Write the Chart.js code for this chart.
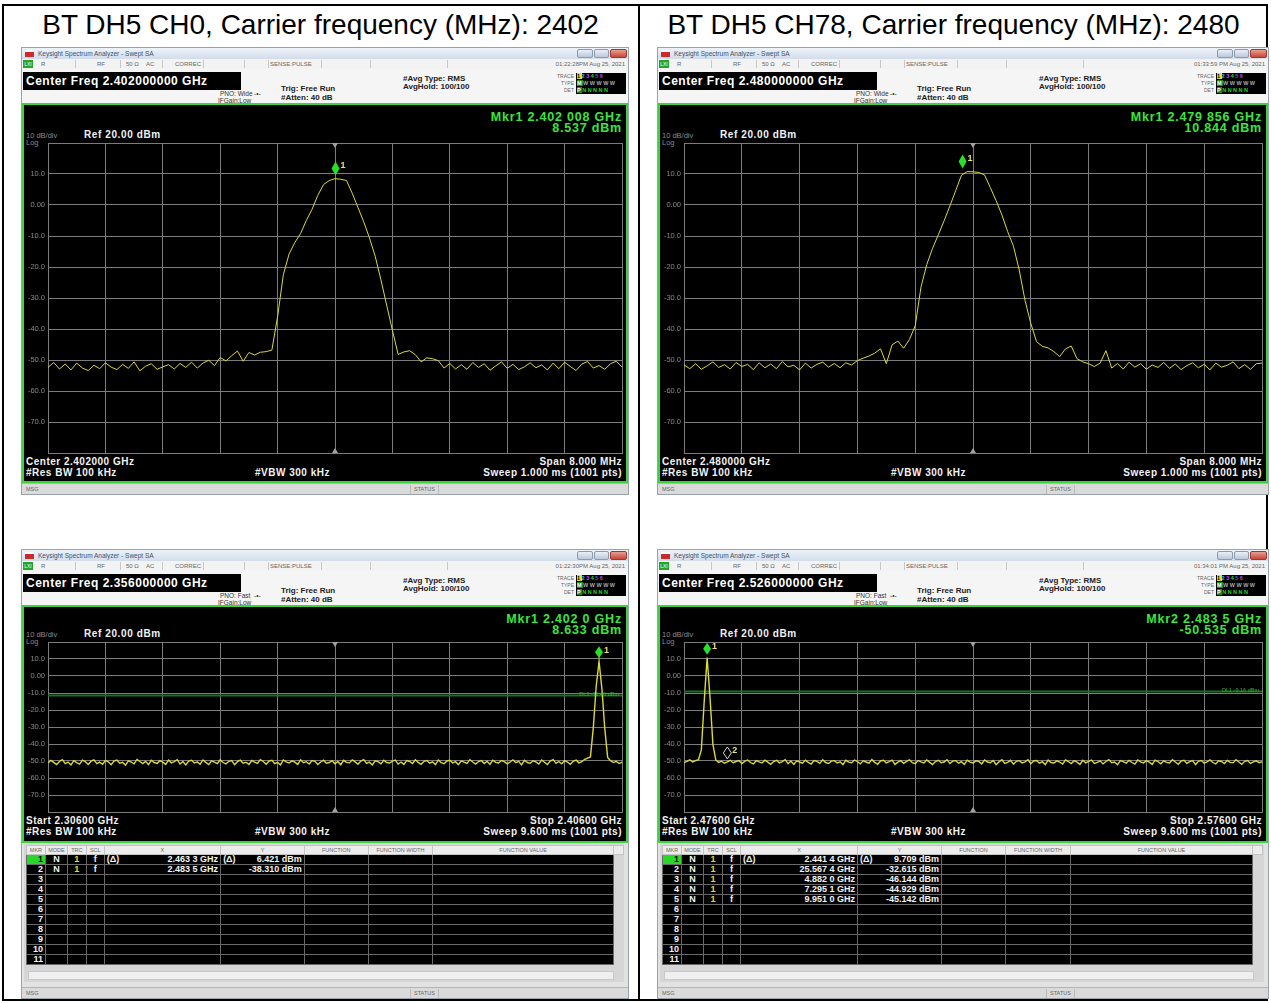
<!DOCTYPE html>
<html lang="en">
<head>
<meta charset="UTF-8">
<title>BT DH5 CH0 / CH78</title>
<script src="https://cdn.jsdelivr.net/npm/chart.js@4.4.0/dist/chart.umd.min.js"></script>
<style>
body { margin: 0; background: #fff; font-family: "Liberation Sans", Arial, sans-serif; }
#page { position: relative; width: 1271px; height: 1003px; overflow: hidden; }
#page > div, .win div { position: absolute; white-space: nowrap; }
.frame { left: 2px; top: 4px; width: 1262px; height: 993px; border: 2px solid #000; }
.divider { left: 638px; top: 4px; width: 2px; height: 997px; background: #000; }
.cap { top: 8px; font-size: 28px; line-height: 34px; text-align: center; color: #000; }
.win { background: #e2e2e2; overflow: hidden; box-shadow: 0 0 0 1px #9aa3ad; }
.tb { left: 0; top: 0; height: 11px; background: linear-gradient(#eef3f9, #d2dcea); }
.ico { left: 3px; top: 2px; width: 9px; height: 7px; background: linear-gradient(#fff 0 35%, #cc2a2a 35%); }
.tt { left: 16px; top: 1px; font-size: 6.5px; line-height: 9px; color: #40536b; }
.wb { top: 1px; height: 9px; border-radius: 2px; background: linear-gradient(#eaf0f8, #b9c8da); border: 1px solid #8c9bb0; box-sizing: border-box; }
.wb.close { background: linear-gradient(#e8a090, #c8453a); border-color: #9a3a30; }
.sr { left: 0; top: 11px; height: 10px; background: #f3f3f3; border-bottom: 1px solid #c4c4c4; }
.sr .st { top: 1px; font-size: 6px; line-height: 8px; color: #666; }
.sr .sep { top: 1px; width: 1px; height: 8px; background: #c8c8c8; }
.lxi { left: 1px; top: 1px; width: 10px; height: 8px; background: #27a327; color: #fff; font-size: 5px; line-height: 8px; text-align: center; }
.hd { left: 0; top: 21px; height: 34px; background: #f5f5f5; }
.cf { left: 1px; top: 3px; width: 218px; height: 18px; background: #000; color: #fff; font-weight: bold; font-size: 12px; line-height: 18px; letter-spacing: 0.5px; padding-left: 3px; box-sizing: border-box; }
.h7 { font-size: 6.5px; line-height: 7px; color: #333; }
.h8 { font-size: 8px; line-height: 9px; color: #222; font-weight: bold; }
.tl { font-size: 5px; line-height: 7px; color: #666; text-align: right; width: 30px; }
.tbx { height: 7px; width: 50px; background: #000; font-size: 5.5px; line-height: 7px; font-weight: bold; letter-spacing: 1.5px; padding-left: 1px; box-sizing: border-box; }
.scr { left: 0; border: 2px solid #3bd43b; background: #000; }
.mk { right: 6px; color: #3de43d; font-weight: bold; font-size: 12.5px; line-height: 12px; letter-spacing: 0.8px; text-align: right; }
.gy { font-size: 7.5px; line-height: 9px; color: #8a8a8a; }
.ref { color: #f2f2f2; font-weight: bold; font-size: 10px; line-height: 12px; letter-spacing: 0.6px; }
.inf { color: #f2f2f2; font-weight: bold; font-size: 10px; line-height: 12px; letter-spacing: 0.5px; }
.plot { left: 2px; }
.msg { left: 0; height: 11px; background: #dadada; border-top: 1px solid #b4b4b4; }
.msg .s { top: 1px; font-size: 5.5px; line-height: 9px; color: #666; }
.mt { left: 2px; background: #d6d6d6; }
.mt table { border-collapse: collapse; table-layout: fixed; position: absolute; left: 2px; top: 2px; }
.mt th { height: 8px; font-size: 5.5px; font-weight: normal; color: #666; background: #ececec; border: 1px solid #c4c4c4; padding: 0; line-height: 8px; overflow: hidden; }
.mt td { height: 9px; font-size: 9px; font-weight: bold; color: #f4f4f4; background: #000; border: 1px solid #6a6a6a; padding: 0 2px; line-height: 9px; overflow: hidden; white-space: nowrap; }
.mt td.r { text-align: right; }
.mt td.c { text-align: center; }
.mt td.g { background: #29d629; color: #000; }
.mt td.y { color: #e6dc2a; text-align: center; }
.mt .fl { float: left; }
.sb { left: 4px; height: 7px; background: #efefef; border: 1px solid #c8c8c8; }
</style>
</head>
<body>
<div id="page">
  <div class="frame"></div>
  <div class="divider"></div>
  <div class="cap" style="left:3px;width:635px">BT DH5 CH0, Carrier frequency (MHz): 2402</div>
  <div class="cap" style="left:640px;width:627px">BT DH5 CH78, Carrier frequency (MHz): 2480</div>
</div>
<script>
const yTickValues = [10, 0, -10, -20, -30, -40, -50, -60, -70];
const yTickLabels = ['10.0', '0.00', '-10.0', '-20.0', '-30.0', '-40.0', '-50.0', '-60.0', '-70.0'];

const ch0Levels = [
  -52.4, -50.8, -52.9, -51.3, -53.2, -51.0, -52.6, -53.4, -51.7, -52.8,
  -50.9, -52.3, -53.1, -51.4, -52.7, -50.6, -53.5, -52.0, -51.2, -53.0,
  -52.2, -51.5, -52.9, -51.1, -52.4, -50.7, -52.6, -51.0, -50.1, -51.8,
  -49.2, -50.3, -48.6, -47.1, -50.4, -47.6, -48.4, -47.5, -47.3, -46.8,
  -36.0, -22.5, -15.8, -12.1, -9.2, -5.0, -1.4, 3.1, 6.6, 7.9,
  8.5, 8.3, 7.9, 3.8, -0.8, -5.4, -10.6, -16.5, -24.1, -32.3,
  -40.4, -48.2, -47.4, -47.0, -48.3, -50.6, -49.3, -49.6, -50.2, -52.6,
  -51.1, -52.9, -51.5, -53.0, -50.8, -52.4, -51.2, -53.3, -51.9, -50.6,
  -52.7, -51.4, -53.1, -52.2, -50.9, -52.5, -51.6, -53.2, -51.0, -52.8,
  -50.7, -52.1, -53.4, -51.3, -50.5, -52.6, -51.8, -53.0, -51.2, -50.4,
  -52.3
];
const ch78Levels = [
  -51.6, -52.8, -51.2, -53.0, -51.9, -50.6, -52.4, -51.5, -52.9, -50.8,
  -52.1, -51.4, -53.1, -50.9, -52.5, -51.3, -52.8, -50.5, -52.2, -51.7,
  -53.2, -51.0, -52.6, -51.4, -50.7, -52.3, -51.1, -52.5, -50.9, -51.6,
  -50.2, -49.4, -48.7, -47.8, -46.4, -51.2, -45.1, -43.9, -46.2, -43.4,
  -39.0, -26.5, -19.2, -14.0, -9.6, -5.1, -0.3, 4.6, 9.6, 10.8,
  10.7, 10.5, 9.7, 5.6, 1.4, -3.2, -8.6, -13.3, -21.0, -30.8,
  -38.2, -44.1, -45.6, -46.1, -47.3, -48.9, -46.4, -45.5, -49.6, -50.6,
  -51.2, -52.1, -51.0, -47.0, -52.6, -51.1, -52.9, -50.7, -52.3, -51.2,
  -53.0, -51.6, -52.4, -50.8, -52.7, -51.3, -53.1, -51.8, -50.9, -52.5,
  -51.4, -53.2, -51.0, -52.3, -51.7, -50.6, -52.8, -51.5, -53.0, -51.2,
  -51.0
];
// band edge sweeps, every 5th sweep point
const lowEdgeLevels = [
  -51.2, -49.6, -50.8, -52.1, -50.3, -49.2, -51.5, -50.6, -52.3, -49.8,
  -50.9, -51.8, -49.5, -50.4, -52.0, -50.1, -49.3, -51.6, -50.7, -51.9,
  -49.7, -50.5, -52.2, -50.0, -49.4, -51.3, -50.8, -52.4, -49.9, -50.6,
  -51.7, -49.1, -50.3, -51.5, -50.2, -52.1, -49.6, -50.9, -51.4, -49.8,
  -50.7, -52.0, -49.5, -51.1, -50.4, -49.2, -51.8, -50.3, -52.3, -50.0,
  -49.6, -51.2, -50.5, -51.9, -49.4, -50.8, -52.1, -49.9, -50.6, -51.5,
  -49.3, -50.9, -51.7, -50.2, -49.8, -52.2, -50.4, -49.5, -51.3, -50.7,
  -52.0, -49.7, -50.6, -51.4, -49.2, -50.3, -51.9, -50.1, -49.6, -51.6,
  -50.8, -52.3, -49.4, -50.5, -51.2, -49.9, -50.7, -52.0, -49.3, -51.0,
  -50.4, -51.8, -49.7, -50.2, -52.1, -50.6, -49.5, -51.3, -50.9, -49.8,
  -51.6, -50.3, -52.2, -49.6, -50.8, -51.1, -49.4, -50.5, -51.9, -50.0,
  -49.2, -51.4, -50.7, -52.3, -49.9, -50.4, -51.7, -49.6, -50.9, -51.2,
  -50.1, -49.5, -51.8, -50.6, -52.0, -49.8, -50.3, -51.5, -49.3, -50.8,
  -51.9, -50.2, -49.7, -51.3, -50.5, -52.1, -49.4, -50.9, -51.6, -50.0,
  -49.6, -51.1, -50.4, -52.2, -49.9, -50.7, -51.4, -49.2, -50.6, -51.8,
  -50.3, -49.8, -51.5, -50.1, -52.0, -49.5, -50.8, -51.2, -49.7, -50.4,
  -51.7, -50.6, -49.3, -51.0, -50.2, -52.3, -49.6, -50.9, -51.3, -49.9,
  -50.5, -51.8, -49.4, -50.7, -52.1, -50.0, -49.2, -51.4, -50.3, -51.6,
  -49.8, -50.6, -51.9, -50.2, -49.5, -51.1, -50.4, -49.0, -48.3, -47.6,
  -30.5, -6.2, 8.6, -7.4, -31.0, -47.9, -49.8, -50.9, -50.2, -51.5,
  -50.7
];
const highEdgeLevels = [
  -51.0, -50.2, -49.3, -50.6, -49.8, -49.2, -43.5, -14.8, 10.8, -12.5,
  -40.2, -49.4, -50.8, -50.1, -51.3, -50.5, -49.6, -51.0, -50.3, -49.7,
  -51.5, -50.2, -49.4, -50.9, -51.7, -49.8, -50.5, -51.2, -49.5, -50.7,
  -51.9, -50.3, -49.6, -51.1, -50.4, -49.2, -51.6, -50.0, -52.0, -49.9,
  -50.6, -51.3, -49.5, -50.8, -51.8, -49.7, -50.2, -51.4, -49.3, -50.9,
  -51.5, -50.1, -49.8, -51.2, -50.5, -52.1, -49.6, -50.7, -51.0, -49.4,
  -50.3, -51.7, -49.9, -50.6, -51.3, -49.2, -50.8, -51.9, -50.0, -49.6,
  -51.1, -50.4, -49.5, -52.0, -50.7, -49.8, -51.4, -50.2, -49.3, -50.9,
  -51.6, -49.7, -50.5, -51.2, -49.4, -50.8, -52.1, -50.3, -49.6, -51.0,
  -50.6, -49.2, -51.5, -50.1, -49.8, -51.3, -50.4, -52.0, -49.5, -50.7,
  -51.2, -49.9, -50.3, -51.7, -49.4, -50.6, -51.0, -49.7, -52.2, -50.5,
  -49.3, -51.4, -50.8, -49.6, -51.9, -50.2, -49.8, -51.1, -50.5, -49.2,
  -51.6, -50.0, -49.7, -51.3, -50.4, -52.1, -49.5, -50.9, -51.2, -49.9,
  -50.6, -51.8, -49.4, -50.3, -51.5, -49.8, -50.7, -52.0, -49.6, -51.1,
  -50.2, -49.5, -51.4, -50.8, -49.9, -51.7, -50.3, -49.2, -51.0, -50.6,
  -52.2, -49.7, -50.4, -51.3, -49.6, -50.9, -51.8, -49.4, -50.5, -51.1,
  -49.8, -50.7, -52.0, -49.5, -50.3, -51.6, -49.9, -50.8, -51.2, -49.3,
  -50.6, -51.9, -50.1, -49.6, -51.4, -50.4, -49.8, -52.1, -50.2, -49.7,
  -51.3, -50.5, -49.4, -50.9, -51.7, -49.9, -50.3, -51.5, -49.6, -50.8,
  -51.1, -49.3, -50.6, -52.0, -50.2, -49.7, -51.4, -50.5, -49.9, -51.0,
  -50.4
];

// markers: [sweep point, level dBm, label, hollow]
const ch0Markers = [[501, 8.537, '1', false]];
const ch78Markers = [[482, 10.844, '1', false]];
const lowEdgeMarkers = [[960, 8.633, '1', false]];
const highEdgeMarkers = [[40, 10.8, '1', false], [75, -50.535, '2', true]];

const lowEdgeTable = [
  ['1', 'N', '1', 'f', '(Δ)', '2.463 3 GHz', '(Δ)', '6.421 dBm'],
  ['2', 'N', '1', 'f', '', '2.483 5 GHz', '', '-38.310 dBm']
];
const highEdgeTable = [
  ['1', 'N', '1', 'f', '(Δ)', '2.441 4 GHz', '(Δ)', '9.709 dBm'],
  ['2', 'N', '1', 'f', '', '25.567 4 GHz', '', '-32.615 dBm'],
  ['3', 'N', '1', 'f', '', '4.882 0 GHz', '', '-46.144 dBm'],
  ['4', 'N', '1', 'f', '', '7.295 1 GHz', '', '-44.929 dBm'],
  ['5', 'N', '1', 'f', '', '9.951 0 GHz', '', '-45.142 dBm']
];

const GRID = '#7c7c7c';
const page = document.getElementById('page');

function el(parent, cls, style, text) {
  const d = document.createElement('div');
  d.className = cls;
  d.style.cssText = style || '';
  if (text !== undefined) d.textContent = text;
  parent.appendChild(d);
  return d;
}

function buildWindow(p) {
  const W = p.width;
  const w = el(page, 'win', `left:${p.left}px;top:${p.top}px;width:${W}px;height:${p.height}px`);

  const tb = el(w, 'tb', `width:${W}px`);
  el(tb, 'ico');
  el(tb, 'tt', '', 'Keysight Spectrum Analyzer - Swept SA');
  el(tb, 'wb', `left:${W - 51}px;width:16px`);
  el(tb, 'wb', `left:${W - 34}px;width:15px`);
  el(tb, 'wb close', `left:${W - 18}px;width:17px`);

  const sr = el(w, 'sr', `width:${W}px`);
  el(sr, 'lxi', '', 'LXI');
  [[19, 'R'], [75, 'RF'], [104, '50 Ω'], [124, 'AC'], [153, 'CORREC'], [248, 'SENSE:PULSE']]
    .forEach(([x, t]) => el(sr, 'st', `left:${x}px`, t));
  [53, 98, 140, 181, 222, 246, 299, 348, 425].forEach(x => el(sr, 'sep', `left:${x}px`));
  el(sr, 'st', 'right:3px', p.time);

  const hd = el(w, 'hd', `width:${W}px`);
  el(hd, 'cf', '', 'Center Freq ' + p.center);
  el(hd, 'h7', 'left:198px;top:21px', 'PNO: ' + p.pno);
  el(hd, 'h7', 'left:196px;top:28px', 'IFGain:Low');
  el(hd, 'h7', 'left:232px;top:21px', '-•-');
  el(hd, 'h8', 'left:259px;top:15px', 'Trig: Free Run');
  el(hd, 'h8', 'left:259px;top:24px', '#Atten: 40 dB');
  el(hd, 'h8', 'left:381px;top:5px', '#Avg Type: RMS');
  el(hd, 'h8', 'left:381px;top:13px', 'AvgHold: 100/100');
  const tx = W - 52;
  el(hd, 'tl', `left:${tx - 32}px;top:4px`, 'TRACE');
  el(hd, 'tl', `left:${tx - 32}px;top:11px`, 'TYPE');
  el(hd, 'tl', `left:${tx - 32}px;top:18px`, 'DET');
  const r1 = el(hd, 'tbx', `left:${tx}px;top:4px`);
  r1.innerHTML = '<span style="background:#e6dc2a;color:#000">1</span><span style="color:#3cc8e8">2</span><span style="color:#e040e0">3</span><span style="color:#40d040">4</span><span style="color:#4060ff">5</span><span style="color:#a050e0">6</span>';
  const r2 = el(hd, 'tbx', `left:${tx}px;top:11px;color:#aaa`);
  r2.innerHTML = '<span style="background:#1f8a1f;color:#fff">M</span>WWWWW';
  const r3 = el(hd, 'tbx', `left:${tx}px;top:18px;color:#2fd02f`);
  r3.innerHTML = '<span style="background:#1f8a1f;color:#fff">P</span>NNNNN';

  el(w, 'scr', `top:${p.scrTop}px;width:${W - 4}px;height:${p.scrHeight}px`);
  el(w, 'mk', `top:${p.scrTop + 8}px`, p.mkr[0]);
  el(w, 'mk', `top:${p.scrTop + 19}px`, p.mkr[1]);
  el(w, 'gy', `left:4px;top:${p.plotTop - 12}px`, '10 dB/div');
  el(w, 'ref', `left:62px;top:${p.plotTop - 14}px`, 'Ref 20.00 dBm');
  el(w, 'gy', `left:4px;top:${p.plotTop - 5}px`, 'Log');

  const box = el(w, 'plot', `top:${p.plotTop - 1}px;width:${W - 7}px;height:${p.plotHeight + 2}px`);
  const cv = document.createElement('canvas');
  box.appendChild(cv);

  const y1 = p.plotTop + p.plotHeight + 3;
  el(w, 'inf', `left:4px;top:${y1}px`, p.info[0]);
  el(w, 'inf', `left:4px;top:${y1 + 11}px`, '#Res BW 100 kHz');
  el(w, 'inf', `left:233px;top:${y1 + 11}px`, '#VBW 300 kHz');
  el(w, 'inf', `right:6px;top:${y1}px;text-align:right`, p.info[1]);
  el(w, 'inf', `right:6px;top:${y1 + 11}px;text-align:right`, p.info[2]);

  if (p.table) {
    const mt = el(w, 'mt', `top:${p.scrTop + p.scrHeight + 4}px;width:${W - 6}px;height:${p.height - p.scrTop - p.scrHeight - 20}px`);
    const cols = [19, 22, 19, 18, 117, 84, 64, 65, 182, 10];
    const heads = ['MKR', 'MODE', 'TRC', 'SCL', 'X', 'Y', 'FUNCTION', 'FUNCTION WIDTH', 'FUNCTION VALUE', ''];
    let html = '<table><colgroup>' + cols.map(c => `<col style="width:${c}px">`).join('') + '</colgroup><tr>';
    html += heads.map(h => `<th>${h}</th>`).join('') + '</tr>';
    for (let i = 0; i < 11; i++) {
      const r = p.table[i];
      const n = String(i + 1);
      if (r) {
        html += `<tr><td class="r${i === 0 ? ' g' : ''}">${r[0]}</td><td class="c">${r[1]}</td><td class="y">${r[2]}</td><td class="c">${r[3]}</td>` +
          `<td class="r"><span class="fl">${r[4]}</span>${r[5]}</td><td class="r"><span class="fl">${r[6]}</span>${r[7]}</td>` +
          '<td></td><td></td><td></td><td style="background:#d6d6d6;border-color:#d6d6d6"></td></tr>';
      } else {
        html += `<tr><td class="r">${n}</td><td></td><td></td><td></td><td></td><td></td><td></td><td></td><td></td><td style="background:#d6d6d6;border-color:#d6d6d6"></td></tr>`;
      }
    }
    html += '</table>';
    mt.innerHTML = html;
    el(mt, 'sb', `top:${p.height - p.scrTop - p.scrHeight - 31}px;width:${W - 22}px`);
  }

  el(w, 'msg', `top:${p.height - 11}px;width:${W}px`);
  const msg = w.lastChild;
  el(msg, 's', 'left:4px', 'MSG');
  el(msg, 's', 'left:388px;border-left:1px solid #bbb;border-right:1px solid #bbb;padding:0 3px', 'STATUS');
  return cv;
}

function diamond(ctx, x, y, hw, hh, hollow) {
  ctx.beginPath();
  ctx.moveTo(x, y - hh);
  ctx.lineTo(x + hw, y);
  ctx.lineTo(x, y + hh);
  ctx.lineTo(x - hw, y);
  ctx.closePath();
  if (hollow) {
    ctx.strokeStyle = '#d8d8d8';
    ctx.lineWidth = 1;
    ctx.stroke();
  } else {
    ctx.fillStyle = '#27e027';
    ctx.fill();
  }
}

const overlay = {
  id: 'overlay',
  afterDatasetsDraw(chart, args, opts) {
    const ctx = chart.ctx, xs = chart.scales.x, ys = chart.scales.y, a = chart.chartArea;
    ctx.save();
    ctx.font = '7.5px "Liberation Sans"';
    ctx.fillStyle = '#8a8a8a';
    ctx.textAlign = 'right';
    ctx.textBaseline = 'middle';
    yTickValues.forEach((v, i) => ctx.fillText(yTickLabels[i], a.left - 3, ys.getPixelForValue(v)));

    const cx = xs.getPixelForValue(500);
    ctx.fillStyle = '#a0a0a0';
    ctx.beginPath();
    ctx.moveTo(cx - 3, a.top); ctx.lineTo(cx + 3, a.top); ctx.lineTo(cx, a.top + 5);
    ctx.moveTo(cx - 3, a.bottom); ctx.lineTo(cx + 3, a.bottom); ctx.lineTo(cx, a.bottom - 5);
    ctx.fill();

    if (opts.dl !== null) {
      ctx.font = '5.5px "Liberation Sans"';
      ctx.fillStyle = '#35b035';
      ctx.fillText('DL1 ' + opts.dl.toFixed(2) + ' dBm', a.right - 3, ys.getPixelForValue(opts.dl) - 1);
    }

    opts.markers.forEach(m => {
      const px = xs.getPixelForValue(m[0]);
      const py = ys.getPixelForValue(m[1]) - opts.lift;
      diamond(ctx, px, py, 4, opts.hh, m[3]);
      ctx.font = 'bold 9px "Liberation Sans"';
      ctx.fillStyle = '#e8e070';
      ctx.textAlign = 'left';
      ctx.fillText(m[2], px + 5, py - opts.hh + 4);
    });
    ctx.restore();
  }
};

function drawTrace(canvas, levels, step, markers, dl, lift, hh, lw) {
  const datasets = [{
    data: levels.map((v, i) => ({x: i * step, y: v})),
    borderColor: '#dcd83a',
    borderWidth: lw,
    pointRadius: 0,
    tension: 0,
    order: 0
  }];
  if (dl !== null) {
    datasets.push({
      data: [{x: 0, y: dl}, {x: 1000, y: dl}],
      borderColor: '#1f6f1f',
      borderWidth: 2,
      pointRadius: 0,
      order: 1
    });
  }
  return new Chart(canvas, {
    type: 'line',
    data: {datasets: datasets},
    options: {
      responsive: true,
      maintainAspectRatio: false,
      animation: false,
      layout: {padding: {left: 24, right: 1, top: 1, bottom: 1}},
      plugins: {
        legend: {display: false},
        tooltip: {enabled: false},
        overlay: {markers: markers, dl: dl, lift: lift, hh: hh}
      },
      scales: {
        x: {
          type: 'linear', min: 0, max: 1000,
          ticks: {stepSize: 100, display: false},
          grid: {color: GRID, drawTicks: false},
          border: {color: GRID}
        },
        y: {
          min: -80, max: 20,
          ticks: {stepSize: 10, display: false},
          grid: {color: GRID, drawTicks: false},
          border: {color: GRID}
        }
      }
    },
    plugins: [overlay]
  });
}

const cvCh0 = buildWindow({
  left: 22, top: 48, width: 606, height: 446, scrTop: 55, scrHeight: 376,
  plotTop: 95, plotHeight: 310, pno: 'Wide',
  center: '2.402000000 GHz', time: '01:22:28PM Aug 25, 2021',
  mkr: ['Mkr1 2.402 008 GHz', '8.537 dBm'],
  info: ['Center 2.402000 GHz', 'Span 8.000 MHz', 'Sweep  1.000 ms (1001 pts)'],
  table: null
});
const cvCh78 = buildWindow({
  left: 658, top: 48, width: 610, height: 446, scrTop: 55, scrHeight: 376,
  plotTop: 95, plotHeight: 310, pno: 'Wide',
  center: '2.480000000 GHz', time: '01:33:59 PM Aug 25, 2021',
  mkr: ['Mkr1 2.479 856 GHz', '10.844 dBm'],
  info: ['Center 2.480000 GHz', 'Span 8.000 MHz', 'Sweep  1.000 ms (1001 pts)'],
  table: null
});
const cvLow = buildWindow({
  left: 22, top: 550, width: 606, height: 448, scrTop: 55, scrHeight: 234,
  plotTop: 92, plotHeight: 170, pno: 'Fast',
  center: '2.356000000 GHz', time: '01:22:30PM Aug 25, 2021',
  mkr: ['Mkr1 2.402 0 GHz', '8.633 dBm'],
  info: ['Start 2.30600 GHz', 'Stop 2.40600 GHz', 'Sweep  9.600 ms (1001 pts)'],
  table: lowEdgeTable
});
const cvHigh = buildWindow({
  left: 658, top: 550, width: 610, height: 448, scrTop: 55, scrHeight: 234,
  plotTop: 92, plotHeight: 170, pno: 'Fast',
  center: '2.526000000 GHz', time: '01:34:01 PM Aug 25, 2021',
  mkr: ['Mkr2 2.483 5 GHz', '-50.535 dBm'],
  info: ['Start 2.47600 GHz', 'Stop 2.57600 GHz', 'Sweep  9.600 ms (1001 pts)'],
  table: highEdgeTable
});

drawTrace(cvCh0, ch0Levels, 10, ch0Markers, null, 10, 7, 1);
drawTrace(cvCh78, ch78Levels, 10, ch78Markers, null, 10, 7, 1);
drawTrace(cvLow, lowEdgeLevels, 5, lowEdgeMarkers, -11.46, 9, 6, 1.4);
drawTrace(cvHigh, highEdgeLevels, 5, highEdgeMarkers, -9.16, 9, 6, 1.4);
</script>
</body>
</html>
